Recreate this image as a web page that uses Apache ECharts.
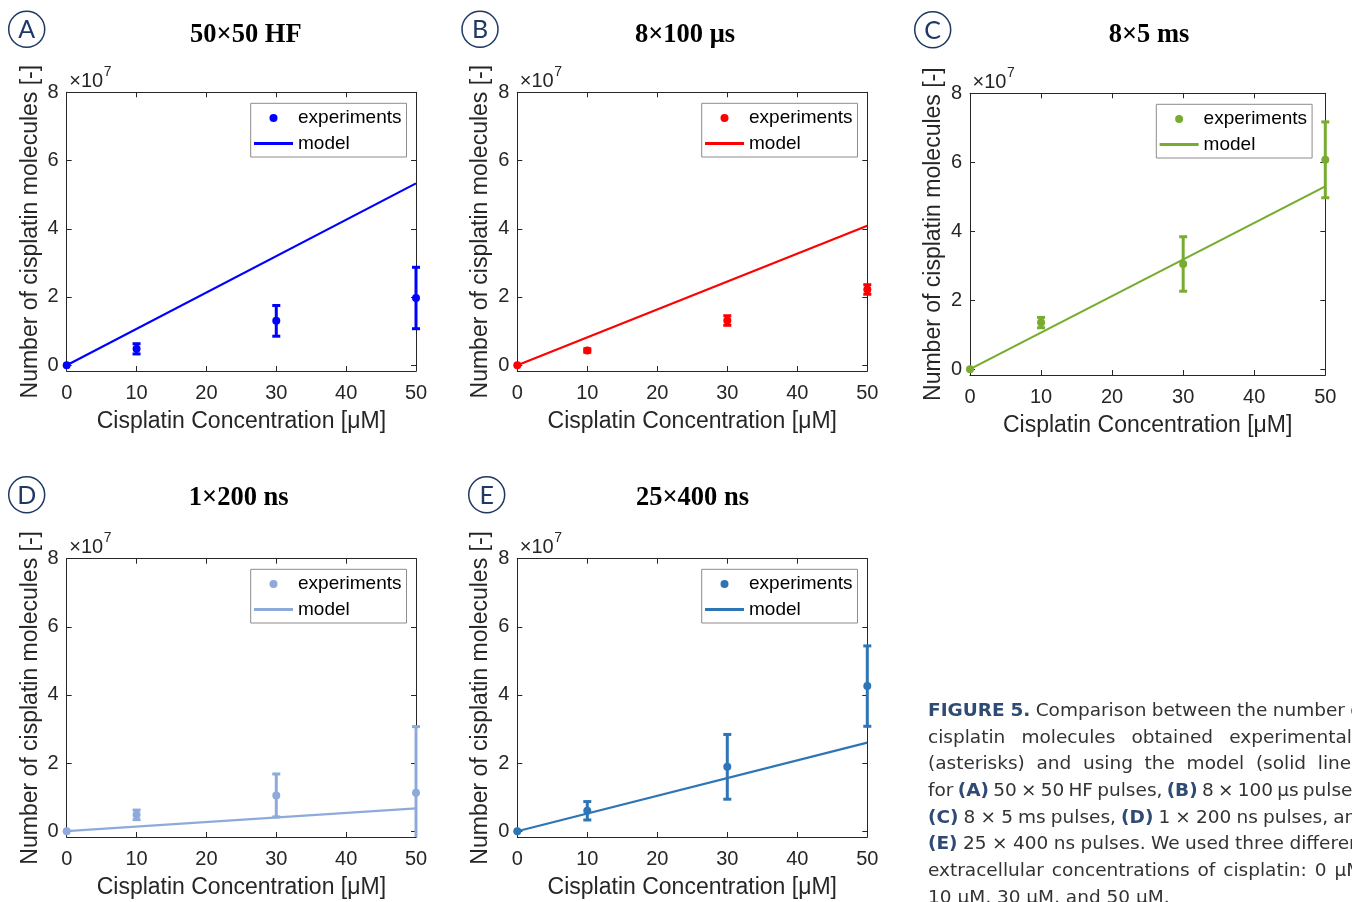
<!DOCTYPE html>
<html>
<head>
<meta charset="utf-8">
<title>Cisplatin molecules: experiments vs model</title>
<script src="https://cdn.jsdelivr.net/npm/echarts@6/dist/echarts.min.js"></script>
<style>
html, body { margin: 0; padding: 0; background: #fff; overflow: hidden; }
#chart { width: 1352px; height: 902px; }
.caption {
  position: absolute; left: 928px; top: 697px; width: 440px;
  font-family: "DejaVu Sans", sans-serif; font-size: 18.5px;
  line-height: 26.65px; color: #333;
}
.caption div { white-space: nowrap; }
.caption b { color: #2f4a73; }
</style>
</head>
<body>
<div id="chart"></div>
<div class="caption" id="caption"></div>
<script>
// concentrations [µM] and axis ticks
const concentration = [0, 10, 30, 50];
const modelConc = [0, 50];
const xTickValues = [0, 10, 20, 30, 40, 50];
const yTickValues = [0, 2, 4, 6, 8];
const yMin = -0.17;
const yMax = 8;

// values in units of 1e7 molecules
const experimentsA = [0, 0.48, 1.3, 1.97];
const errorsA = [0, 0.15, 0.45, 0.9];
const modelA = [0, 5.33];

const experimentsB = [0, 0.43, 1.31, 2.22];
const errorsB = [0, 0.05, 0.14, 0.14];
const modelB = [0, 4.09];

const experimentsC = [0, 1.35, 3.05, 6.07];
const errorsC = [0, 0.15, 0.79, 1.1];
const modelC = [0, 5.3];

const experimentsD = [0, 0.48, 1.05, 1.13];
const errorsD = [0, 0.14, 0.63, 1.94];
const modelD = [0, 0.67];

const experimentsE = [0, 0.6, 1.89, 4.26];
const errorsE = [0, 0.27, 0.95, 1.18];
const modelE = [0, 2.6];

const panelLetters = ["A", "B", "C", "D", "E"];
const panelTitles = ["50×50 HF", "8×100 μs", "8×5 ms", "1×200 ns", "25×400 ns"];
const panelColors = ["#0000ff", "#ff0000", "#77ac30", "#8eaadb", "#2e75b6"];
const panelExperiments = [experimentsA, experimentsB, experimentsC, experimentsD, experimentsE];
const panelErrors = [errorsA, errorsB, errorsC, errorsD, errorsE];
const panelModels = [modelA, modelB, modelC, modelD, modelE];

const captionLines = [
  "<b>FIGURE 5.</b> Comparison between the number of",
  "cisplatin molecules obtained experimentally",
  "(asterisks) and using the model (solid lines)",
  "for <b>(A)</b> 50 × 50 HF pulses, <b>(B)</b> 8 × 100 μs pulses,",
  "<b>(C)</b> 8 × 5 ms pulses, <b>(D)</b> 1 × 200 ns pulses, and",
  "<b>(E)</b> 25 × 400 ns pulses. We used three different",
  "extracellular concentrations of cisplatin: 0 μM,",
  "10 μM, 30 μM, and 50 μM.",
];

// 版面位置 (px)
const layout = [
  { grid: [66.7, 92.3, 349.3, 278.7], title: [245.8, 35], badge: [26.7, 29.3], legend: [250.7, 103.3] },
  { grid: [517.3, 92.3, 350, 278.7], title: [685, 35], badge: [480, 29.3], legend: [701.7, 103.3] },
  { grid: [970, 93.3, 355.3, 281.7], title: [1149, 35], badge: [932.7, 29.7], legend: [1156.3, 104.3] },
  { grid: [66.7, 558.7, 349.3, 278.3], title: [238.7, 497.7], badge: [26.7, 494.7], legend: [250.7, 569.3] },
  { grid: [517.3, 558.7, 350, 278.3], title: [692.5, 497.7], badge: [486.7, 494.7], legend: [701.7, 569.3] },
];

const fontSans = "'Liberation Sans', Arial, sans-serif";
const axisColor = "#262626";
const badgeColor = "#1f3864";
const lineIcon = "path://M0,0L39,0L39,2.8L0,2.8Z";

/** 誤差線 (clamped to the y range) */
const renderErrorBar = (params, api) => {
  const x = api.value(0);
  const y = api.value(1);
  const e = api.value(2);
  if (!e) return null;
  const lo = Math.max(y - e, yMin);
  const hi = Math.min(y + e, yMax);
  const pLo = api.coord([x, lo]);
  const pHi = api.coord([x, hi]);
  const style = { stroke: api.visual("color"), lineWidth: 3, fill: null };
  const capHalf = 4;
  const children = [
    { type: "line", shape: { x1: pLo[0], y1: pLo[1], x2: pHi[0], y2: pHi[1] }, style },
  ];
  if (y - e >= yMin) {
    children.push({ type: "line", shape: { x1: pLo[0] - capHalf, y1: pLo[1], x2: pLo[0] + capHalf, y2: pLo[1] }, style });
  }
  if (y + e <= yMax) {
    children.push({ type: "line", shape: { x1: pHi[0] - capHalf, y1: pHi[1], x2: pHi[0] + capHalf, y2: pHi[1] }, style });
  }
  return { type: "group", children };
};

const grids = [];
const xAxes = [];
const yAxes = [];
const series = [];
const legends = [];
const graphics = [];

panelLetters.forEach((letter, g) => {
  const lay = layout[g];
  const color = panelColors[g];
  const [left, top, width, height] = lay.grid;
  grids.push({ left, top, width, height, containLabel: false });

  const tick = { show: true, inside: true, length: 5, lineStyle: { color: axisColor, width: 1 } };
  const line = { show: true, onZero: false, lineStyle: { color: axisColor, width: 1 } };

  xAxes.push({
    type: "value", gridIndex: g, position: "bottom", min: 0, max: 50, interval: 10,
    axisLine: line, axisTick: tick, splitLine: { show: false },
    axisLabel: { color: axisColor, fontSize: 20, margin: 12, fontFamily: fontSans },
    name: "Cisplatin Concentration [μM]", nameLocation: "middle", nameGap: 39,
    nameTextStyle: { color: axisColor, fontSize: 23, fontFamily: fontSans },
  });
  xAxes.push({
    type: "value", gridIndex: g, position: "top", min: 0, max: 50, interval: 10,
    axisLine: line, axisTick: tick, splitLine: { show: false }, axisLabel: { show: false },
  });
  yAxes.push({
    type: "value", gridIndex: g, position: "left", min: yMin, max: yMax,
    axisLine: line, axisTick: { ...tick, customValues: yTickValues }, splitLine: { show: false },
    axisLabel: { customValues: yTickValues, color: axisColor, fontSize: 20, margin: 8, fontFamily: fontSans },
    name: "Number of cisplatin molecules [-]", nameLocation: "middle", nameGap: 25,
    nameTextStyle: { color: axisColor, fontSize: 23, fontFamily: fontSans },
  });
  yAxes.push({
    type: "value", gridIndex: g, position: "right", min: yMin, max: yMax,
    axisLine: line, axisTick: { ...tick, customValues: yTickValues }, splitLine: { show: false },
    axisLabel: { show: false },
  });

  const exp = panelExperiments[g];
  const err = panelErrors[g];
  const mod = panelModels[g];

  series.push({
    name: letter + "|model", type: "line", xAxisIndex: 2 * g, yAxisIndex: 2 * g,
    data: modelConc.map((c, i) => [c, mod[i]]),
    symbol: "none", lineStyle: { color, width: 2.2 }, itemStyle: { color }, z: 2,
  });
  series.push({
    name: letter + "|errorbar", type: "custom", xAxisIndex: 2 * g, yAxisIndex: 2 * g,
    data: concentration.map((c, i) => [c, exp[i], err[i]]),
    renderItem: renderErrorBar, itemStyle: { color }, clip: false, z: 3,
  });
  series.push({
    name: letter + "|experiments", type: "scatter", xAxisIndex: 2 * g, yAxisIndex: 2 * g,
    data: concentration.map((c, i) => [c, exp[i]]),
    symbol: "circle", symbolSize: 8, itemStyle: { color, opacity: 1 }, clip: false, z: 4,
  });

  legends.push({
    left: lay.legend[0], top: lay.legend[1], orient: "vertical",
    itemWidth: 39, itemHeight: 8, itemGap: 5.5, padding: [4.7, 5, 3.5, 3.3],
    borderColor: "#8c8c8c", borderWidth: 1, borderRadius: 0, backgroundColor: "#fff",
    textStyle: { color: "#000", fontSize: 19, lineHeight: 20, fontFamily: fontSans },
    formatter: (name) => name.split("|")[1],
    data: [
      { name: letter + "|experiments", icon: "circle" },
      { name: letter + "|model", icon: lineIcon },
    ],
  });

  // 標題、圓圈字母、×10^7
  graphics.push({
    type: "text", x: lay.title[0], y: lay.title[1],
    style: { text: panelTitles[g], fill: "#000", fontSize: 26.5, fontWeight: "bold",
      fontFamily: "'Liberation Serif', 'Times New Roman', serif", align: "center", verticalAlign: "middle" },
  });
  graphics.push({
    type: "circle", shape: { cx: lay.badge[0], cy: lay.badge[1], r: 18 },
    style: { fill: "#fff", stroke: badgeColor, lineWidth: 1.5 },
  });
  graphics.push({
    type: "text", x: lay.badge[0], y: lay.badge[1] + 1,
    style: { text: letter, fill: badgeColor, fontSize: 25, fontFamily: "Lato, 'Open Sans', sans-serif",
      align: "center", verticalAlign: "middle" },
  });
  graphics.push({
    type: "text", x: left + 2.5, y: top - 11.3,
    style: { text: "×10", fill: axisColor, fontSize: 20, fontFamily: fontSans, align: "left", verticalAlign: "middle" },
  });
  graphics.push({
    type: "text", x: left + 37, y: top - 20.6,
    style: { text: "7", fill: axisColor, fontSize: 14, fontFamily: fontSans, align: "left", verticalAlign: "middle" },
  });
});

const chart = echarts.init(document.getElementById("chart"), null, { renderer: "canvas" });
chart.setOption({
  animation: false,
  backgroundColor: "#fff",
  grid: grids,
  xAxis: xAxes,
  yAxis: yAxes,
  legend: legends,
  series,
  graphic: graphics,
});

// 圖說 (justified lines)
const captionEl = document.getElementById("caption");
const captionWidth = 440;
captionLines.forEach((html, i) => {
  const row = document.createElement("div");
  const span = document.createElement("span");
  span.innerHTML = html;
  row.appendChild(span);
  captionEl.appendChild(row);
  if (i < captionLines.length - 1) {
    const gaps = span.textContent.split(" ").length - 1;
    const extra = (captionWidth - span.getBoundingClientRect().width) / gaps;
    span.style.wordSpacing = extra + "px";
  }
});
</script>
</body>
</html>
